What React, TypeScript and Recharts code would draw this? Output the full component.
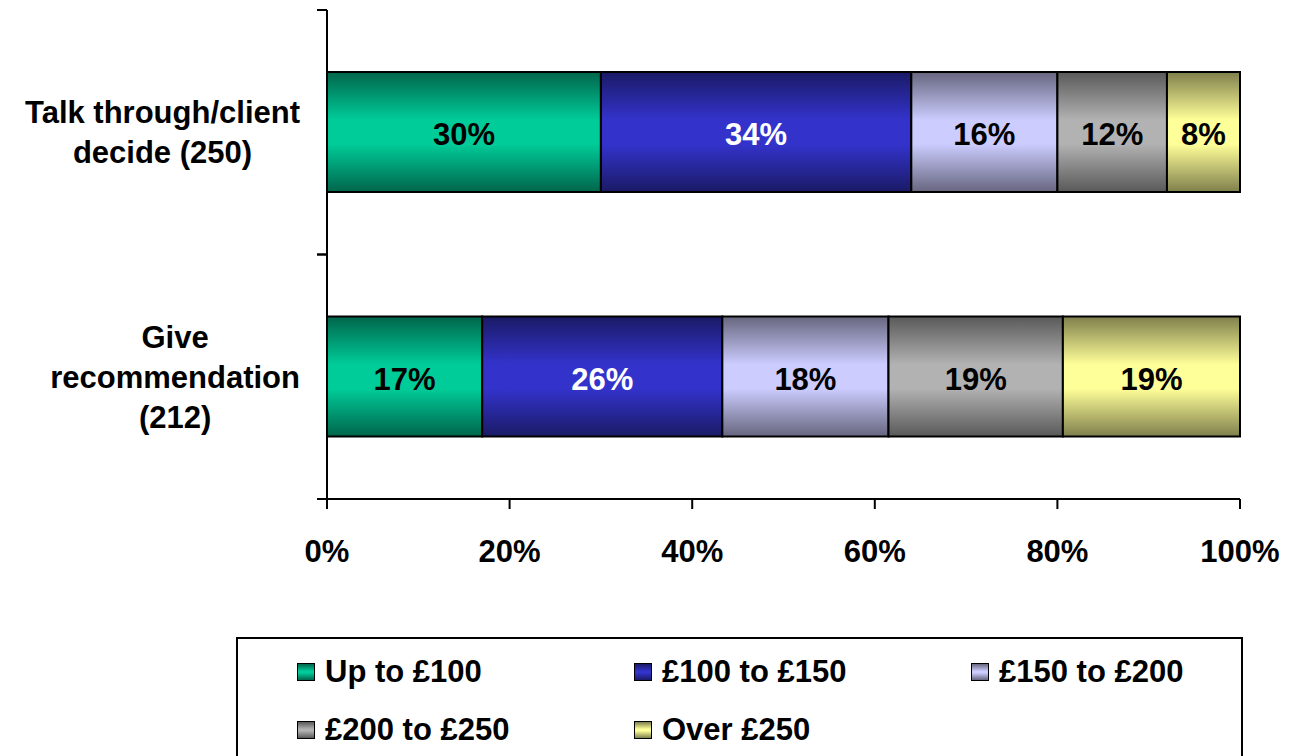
import { BarChart, Bar, XAxis, YAxis, LabelList, Legend } from 'recharts'

const categories = ['Talk through/client\ndecide (250)', 'Give\nrecommendation\n(212)']
const upTo100 = [30, 17]
const from100to150 = [34, 26.3]
const from150to200 = [16, 18.2]
const from200to250 = [12, 19.1]
const over250 = [8, 19.4]
const xTicks = [0, 20, 40, 60, 80, 100]

const FONT = '"Liberation Sans", Arial, sans-serif'
const LABEL_GAP = 27

const series = [
  { key: 'upTo100', name: 'Up to £100', values: upTo100, light: '#00cc99', dark: '#00654b', text: '#000' },
  { key: 'from100to150', name: '£100 to £150', values: from100to150, light: '#3333cc', dark: '#1a1a66', text: '#fff' },
  { key: 'from150to200', name: '£150 to £200', values: from150to200, light: '#ccccff', dark: '#66667f', text: '#000' },
  { key: 'from200to250', name: '£200 to £250', values: from200to250, light: '#b2b2b2', dark: '#595959', text: '#000' },
  { key: 'over250', name: 'Over £250', values: over250, light: '#ffff99', dark: '#7f7f4c', text: '#000' },
]

const data = categories.map((name, i) => {
  const row: Record<string, string | number> = { name }
  series.forEach((s) => (row[s.key] = s.values[i]))
  return row
})

let ctx: CanvasRenderingContext2D | null = null
function measure(text: string) {
  if (!ctx) ctx = document.createElement('canvas').getContext('2d')
  if (!ctx) return text.length * 17
  ctx.font = `bold 31px ${FONT}`
  return ctx.measureText(text).width
}

// category label plus the tick marks on the band edges (Excel puts ticks between categories)
function CategoryTick(props: any) {
  const { x, y, payload, height } = props
  const lines = String(payload.value).split('\n')
  const block = Math.max(...lines.map(measure))
  const cx = x - block / 2
  const half = payload.offset ?? (height ? height / (2 * categories.length) : 0)
  const axisX = x + LABEL_GAP
  return (
    <g>
      {half > 0 &&
        [y - half, y + half].map((ty, i) => (
          <line key={i} x1={axisX - 10} x2={axisX} y1={ty} y2={ty} stroke="#000" strokeWidth={2} />
        ))}
      <text x={cx} textAnchor="middle" fontFamily={FONT} fontSize={31} fontWeight="bold" fill="#000">
        {lines.map((l, i) => (
          <tspan key={i} x={cx} y={y + 11 + (i - (lines.length - 1) / 2) * 40}>
            {l}
          </tspan>
        ))}
      </text>
    </g>
  )
}

function LegendBox() {
  return (
    <div
      style={{
        width: 1003,
        height: 140,
        border: '2px solid #000',
        background: '#fff',
        position: 'relative',
        fontFamily: FONT,
        fontSize: 31,
        fontWeight: 'bold',
        color: '#000',
      }}
    >
      {series.map((s, i) => (
        <div
          key={s.key}
          style={{
            position: 'absolute',
            left: 59 + (i % 3) * 337,
            top: 15 + Math.floor(i / 3) * 58,
            display: 'flex',
            alignItems: 'center',
            whiteSpace: 'nowrap',
            lineHeight: '36px',
          }}
        >
          <span
            style={{
              display: 'inline-block',
              width: 16,
              height: 16,
              border: '1px solid #000',
              marginRight: 10,
              background: `linear-gradient(${s.dark}, ${s.light} 45%, ${s.light} 55%, ${s.dark})`,
            }}
          />
          {s.name}
        </div>
      ))}
    </div>
  )
}

export default function App() {
  return (
    <div style={{ position: 'absolute', left: 0, top: 0, width: 1292, height: 756, background: '#fff' }}>
      <BarChart
        width={1292}
        height={756}
        layout="vertical"
        data={data}
        margin={{ top: 10, right: 52, bottom: 207, left: 0 }}
        barSize={120}
      >
        <defs>
          {series.map((s) => (
            <linearGradient key={s.key} id={`grad-${s.key}`} x1="0" y1="0" x2="0" y2="1">
              <stop offset="0" stopColor={s.dark} />
              <stop offset="0.4" stopColor={s.light} />
              <stop offset="0.6" stopColor={s.light} />
              <stop offset="1" stopColor={s.dark} />
            </linearGradient>
          ))}
        </defs>
        <XAxis
          type="number"
          domain={[0, 100]}
          ticks={xTicks}
          tickFormatter={(v) => `${v}%`}
          height={50}
          tickSize={10}
          tickMargin={31}
          axisLine={{ stroke: '#000', strokeWidth: 2 }}
          tickLine={{ stroke: '#000', strokeWidth: 2 }}
          tick={{ fill: '#000', fontSize: 31, fontWeight: 'bold', fontFamily: FONT }}
        />
        <YAxis
          type="category"
          dataKey="name"
          width={327}
          tickLine={false}
          tickSize={0}
          tickMargin={LABEL_GAP}
          axisLine={{ stroke: '#000', strokeWidth: 2 }}
          tick={<CategoryTick />}
        />
        {series.map((s) => (
          <Bar
            key={s.key}
            dataKey={s.key}
            name={s.name}
            stackId="a"
            fill={`url(#grad-${s.key})`}
            stroke="#000"
            strokeWidth={2}
            isAnimationActive={false}
          >
            <LabelList
              dataKey={s.key}
              position="center"
              formatter={(v: any) => `${Math.round(Number(v))}%`}
              fill={s.text}
              fontSize={31}
              fontWeight="bold"
              fontFamily={FONT}
              dy={2}
            />
          </Bar>
        ))}
        <Legend
          layout="horizontal"
          verticalAlign="middle"
          align="center"
          wrapperStyle={{ left: 236, top: 637, width: 1007, height: 144 }}
          content={() => <LegendBox />}
        />
      </BarChart>
    </div>
  )
}
